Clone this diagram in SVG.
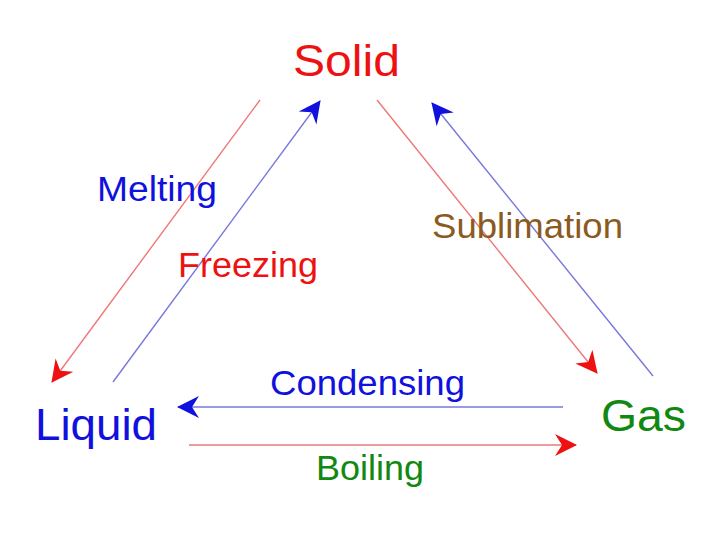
<svg xmlns="http://www.w3.org/2000/svg" width="720" height="540" viewBox="0 0 720 540">
  <defs>
    <style>
      .node { font-family: "Liberation Sans", Arial, sans-serif; font-size: 45px; }
      .lbl { font-family: "Liberation Sans", Arial, sans-serif; font-size: 35px; }
      .red { fill: #ee1111; }
      .blue { fill: #1111dd; }
      .green { fill: #118811; }
      .brown { fill: #8b5a1e; }
      .lr { stroke: #ee7777; stroke-width: 1.4; fill: none; }
      .lb { stroke: #7777dd; stroke-width: 1.4; fill: none; }
    </style>
    <marker id="ahRed" viewBox="0 0 22 24" refX="21" refY="12" markerWidth="22" markerHeight="24" markerUnits="userSpaceOnUse" orient="auto">
      <path d="M0,1 L22,12 L0,23 L7,12 z" fill="#ee1111"/>
    </marker>
    <marker id="ahBlue" viewBox="0 0 22 24" refX="21" refY="12" markerWidth="22" markerHeight="24" markerUnits="userSpaceOnUse" orient="auto">
      <path d="M0,1 L22,12 L0,23 L7,12 z" fill="#1111dd"/>
    </marker>
  </defs>
  <rect width="720" height="540" fill="#ffffff"/>

  <g id="connectors">
    <line id="melting" class="lr" x1="260" y1="100" x2="52" y2="382" marker-end="url(#ahRed)"/>
    <line id="freezing" class="lb" x1="113" y1="382" x2="320" y2="101" marker-end="url(#ahBlue)"/>
    <line id="sublimation" class="lr" x1="377" y1="100" x2="597" y2="373" marker-end="url(#ahRed)"/>
    <line id="deposition" class="lb" x1="653" y1="376" x2="432" y2="103" marker-end="url(#ahBlue)"/>
    <line id="condensing" class="lb" x1="563" y1="407" x2="178" y2="407" marker-end="url(#ahBlue)"/>
    <line id="boiling" class="lr" x1="189" y1="445" x2="576" y2="445" marker-end="url(#ahRed)"/>
  </g>

  <g id="labels">
    <text class="lbl blue" x="97" y="201" textLength="120" lengthAdjust="spacingAndGlyphs">Melting</text>
    <text class="lbl red" x="178" y="277" textLength="140" lengthAdjust="spacingAndGlyphs">Freezing</text>
    <text class="lbl brown" x="432" y="238" textLength="191" lengthAdjust="spacingAndGlyphs">Sublimation</text>
    <text class="lbl blue" x="270" y="395" textLength="195" lengthAdjust="spacingAndGlyphs">Condensing</text>
    <text class="lbl green" x="316" y="480" textLength="108" lengthAdjust="spacingAndGlyphs">Boiling</text>
  </g>

  <g id="node-solid">
    <text class="node red" x="293" y="76" textLength="107" lengthAdjust="spacingAndGlyphs">Solid</text>
  </g>
  <g id="node-liquid">
    <text class="node blue" x="35" y="440" textLength="122" lengthAdjust="spacingAndGlyphs">Liquid</text>
  </g>
  <g id="node-gas">
    <text class="node green" x="601" y="431" textLength="85" lengthAdjust="spacingAndGlyphs">Gas</text>
  </g>
</svg>
